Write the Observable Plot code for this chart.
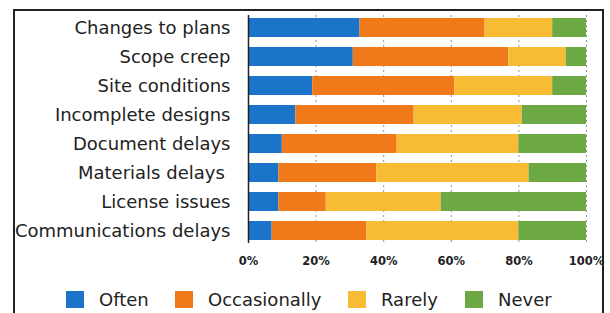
<!DOCTYPE html>
<html>
<head>
<meta charset="utf-8">
<script src="https://cdn.jsdelivr.net/npm/d3@7"></script>
<script src="https://cdn.jsdelivr.net/npm/@observablehq/plot@0.6"></script>
<style>
  html, body { margin: 0; padding: 0; background: #fff; }
  #wrap { position: relative; width: 610px; height: 313px; overflow: hidden; font-family: "DejaVu Sans", Verdana, sans-serif; }
  #frame { position: absolute; left: 13px; top: 9px; width: 591px; height: 320px; border: 2px solid #222; border-bottom: none; box-sizing: border-box; }
  #chart { position: absolute; left: 0; top: 0; }
  #legend { position: absolute; left: 0; top: 287px; width: 610px; height: 24px; color: #222; font-size: 18px; }
  .item { position: absolute; display: flex; align-items: center; top: 0; height: 24px; }
  .sw { width: 18px; height: 17px; margin-right: 15px; }
</style>
</head>
<body>
<div id="wrap">
  <div id="frame"></div>
  <div id="chart"></div>
  <div id="legend"></div>
</div>
<script>
const categories = ["Changes to plans", "Scope creep", "Site conditions", "Incomplete designs",
  "Document delays", "Materials delays\u00a0", "License issues", "Communications delays"];
const seriesNames = ["Often", "Occasionally", "Rarely", "Never"];
const often        = [33, 31, 19, 14, 10,  9,  9,  7];
const occasionally = [37, 46, 42, 35, 34, 29, 14, 28];
const rarely       = [20, 17, 29, 32, 36, 45, 34, 45];
const never        = [10,  6, 10, 19, 20, 17, 43, 20];
const xTicks = [0, 20, 40, 60, 80, 100];
const colors = ["#1b74c9", "#f07a1a", "#f8bb34", "#6ca844"];

const seriesValues = [often, occasionally, rarely, never];
const data = [];
categories.forEach((c, i) => {
  seriesNames.forEach((s, j) => data.push({category: c, series: s, value: seriesValues[j][i]}));
});

const chart = Plot.plot({
  width: 610,
  height: 275,
  marginLeft: 248,
  marginRight: 24,
  marginTop: 15,
  marginBottom: 32,
  style: {fontFamily: "'DejaVu Sans', Verdana, sans-serif", color: "#222", background: "transparent"},
  x: {domain: [0, 100]},
  y: {domain: categories, paddingInner: 0.35, paddingOuter: 0.1},
  color: {domain: seriesNames, range: colors},
  marks: [
    Plot.gridX(xTicks.slice(1), {stroke: "#777", strokeOpacity: 0.8, strokeDasharray: "2,3"}),
    Plot.barX(data, {x: "value", y: "category", fill: "series", order: seriesNames}),
    Plot.ruleX([0], {stroke: "#222", strokeWidth: 1.5}),
    Plot.axisX({ticks: xTicks, tickFormat: d => d + "%", tickSize: 0, tickPadding: 13, fontSize: 11.5, fontWeight: "bold", label: null}),
    Plot.axisY({tickSize: 0, tickPadding: 18, fontSize: 18, label: null})
  ]
});
document.getElementById("chart").appendChild(chart);

const legendPos = [66, 175, 348, 465];
const legend = document.getElementById("legend");
seriesNames.forEach((s, i) => {
  const item = document.createElement("div");
  item.className = "item";
  item.style.left = legendPos[i] + "px";
  const sw = document.createElement("div");
  sw.className = "sw";
  sw.style.background = colors[i];
  const t = document.createElement("span");
  t.textContent = s;
  item.appendChild(sw);
  item.appendChild(t);
  legend.appendChild(item);
});
</script>
</body>
</html>
